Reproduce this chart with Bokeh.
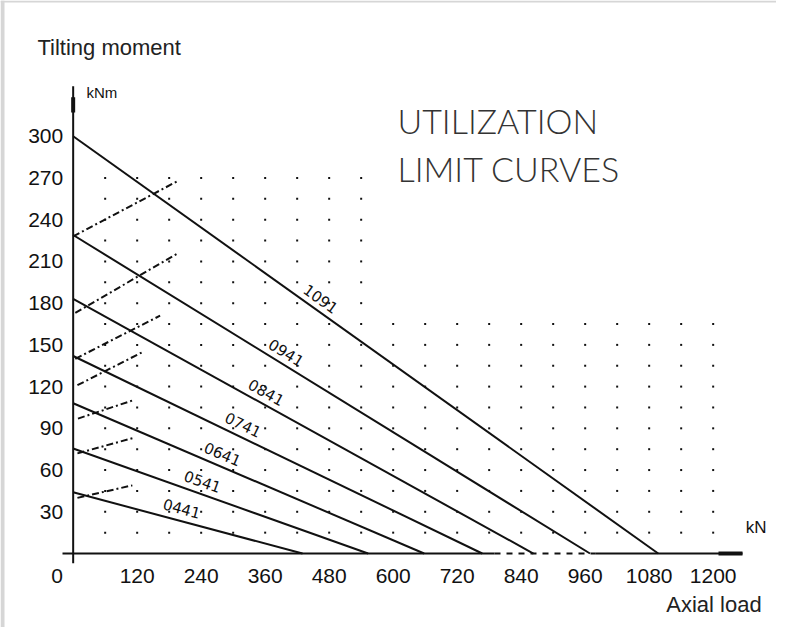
import numpy as np
from bokeh.plotting import figure
from bokeh.models import Range1d
from bokeh.core.properties import value
from bokeh.embed import file_html
from bokeh.resources import INLINE

# ---------------- data ----------------
x_ticks = [120, 240, 360, 480, 600, 720, 840, 960, 1080, 1200]      # kN
y_ticks = [30, 60, 90, 120, 150, 180, 210, 240, 270, 300]           # kNm
curve_labels = ["1091", "0941", "0841", "0741", "0641", "0541", "0441"]
moment_at_zero_load = [300, 229, 183, 142, 108, 75.5, 44]           # kNm
load_at_zero_moment = [1097, 969, 863, 767, 658, 553, 430]          # kN
label_load = [458, 394, 357, 314, 276, 239, 201]                    # kN where label sits
# dash-dot limit lines (start -> end)
dd_load_start = [0, 4, 4, 8, 9, 8, 8]
dd_moment_start = [228, 173, 140, 121, 97, 72, 40]
dd_load_end = [197, 197, 163, 131, 111, 112, 111]
dd_moment_end = [268, 216, 171, 145, 110, 83, 49]
# dotted grid
dot_load_step = 60
dot_moment_step = 15

# ---------------- figure ----------------
W, H = 776, 627
x0, x1 = -136.25, 1318.75
y0, y1 = -53.2, 397.6
sx = W / (x1 - x0)
sy = H / (y1 - y0)

p = figure(width=W, height=H, output_backend="svg", toolbar_location=None,
           tools="", title=None, x_axis_location=None, y_axis_location=None,
           min_border=0, outline_line_color=None,
           x_range=Range1d(x0, x1), y_range=Range1d(y0, y1))
p.grid.visible = False
p.background_fill_color = "white"
p.border_fill_color = "white"

INK = "#111111"

# light grey frame edges (scan border)
p.quad(left=[x0, x0], right=[x0 + 4 / sx, x1], bottom=[y0, y1 - 2 / sy],
       top=[y1, y1], color="#d6d6d6", line_color=None)

# dot grid
gx, gy = [], []
for xv in range(dot_load_step, 1201, dot_load_step):
    for yv in range(dot_moment_step, 316, dot_moment_step):
        if (xv <= 540 and yv <= 270) or (xv > 540 and yv <= 165):
            gx.append(xv)
            gy.append(yv)
p.scatter(gx, gy, marker="square", size=2, color=INK, line_color=None)

# axes lines
p.segment(x0=[0], y0=[-7], x1=[0], y1=[336], line_color=INK, line_width=2)
p.segment(x0=[0], y0=[317], x1=[0], y1=[328], line_color=INK, line_width=4)
p.segment(x0=[-20, 980], y0=[0, 0], x1=[790, 1255], y1=[0, 0], line_color=INK, line_width=2)
p.segment(x0=[790], y0=[0], x1=[980], y1=[0], line_color=INK, line_width=2, line_dash="6 6")
p.segment(x0=[1210], y0=[0], x1=[1255], y1=[0], line_color=INK, line_width=4)

# utilization curves
p.segment(x0=[0] * len(moment_at_zero_load), y0=moment_at_zero_load,
          x1=load_at_zero_moment, y1=[0] * len(load_at_zero_moment),
          line_color=INK, line_width=2)

# dash-dot limit lines
p.segment(x0=dd_load_start, y0=dd_moment_start, x1=dd_load_end, y1=dd_moment_end,
          line_color=INK, line_width=2, line_dash="7 3 2 3")

# curve labels
lab_y, lab_ang = [], []
for m0, l0, lx in zip(moment_at_zero_load, load_at_zero_moment, label_load):
    lab_y.append(m0 * (1 - lx / l0))
    lab_ang.append(-np.arctan((m0 * sy) / (l0 * sx)))
p.text(x=label_load, y=lab_y, text=curve_labels, angle=lab_ang,
       text_align="center", text_baseline="bottom", y_offset=-7,
       text_font=value("DejaVu Sans"), text_font_size="15px",
       text_color=INK)

# tick labels
TICKFONT = value("Liberation Sans")
p.text(x=x_ticks, y=[0] * len(x_ticks), text=[str(v) for v in x_ticks],
       text_align="center", text_baseline="middle", y_offset=22,
       text_font=TICKFONT, text_font_size="21px", text_color=INK)
p.text(x=[0], y=[0], text=["0"], text_align="center", text_baseline="middle",
       x_offset=-16, y_offset=22, text_font=TICKFONT, text_font_size="21px",
       text_color=INK)
p.text(x=[0] * len(y_ticks), y=y_ticks, text=[str(v) for v in y_ticks],
       text_align="right", text_baseline="middle", x_offset=-10,
       text_font=TICKFONT, text_font_size="21px", text_color=INK)

# unit labels
p.text(x=[25], y=[331.5], text=["kNm"], text_align="left", text_baseline="middle",
       text_font=TICKFONT, text_font_size="15px", text_color=INK)
p.text(x=[1261], y=[18.7], text=["kN"], text_align="left", text_baseline="middle",
       text_font=TICKFONT, text_font_size="17px", text_color=INK)

# axis titles
p.text(x=[-67], y=[364], text=["Tilting moment"], text_align="left",
       text_baseline="middle", text_font=value("Liberation Sans"),
       text_font_size="22px", text_color="#222222")
p.text(x=[1291], y=[-36.7], text=["Axial load"], text_align="right",
       text_baseline="middle", text_font=value("Liberation Sans"),
       text_font_size="22px", text_color="#222222")

# chart title
p.text(x=[608, 608], y=[311, 277], text=["UTILIZATION", "LIMIT CURVES"],
       text_align="left", text_baseline="middle",
       text_font=value("Lato Light, Lato"), text_font_size="34px",
       text_color="#333333")

open("out.html", "w").write(file_html(p, INLINE))
